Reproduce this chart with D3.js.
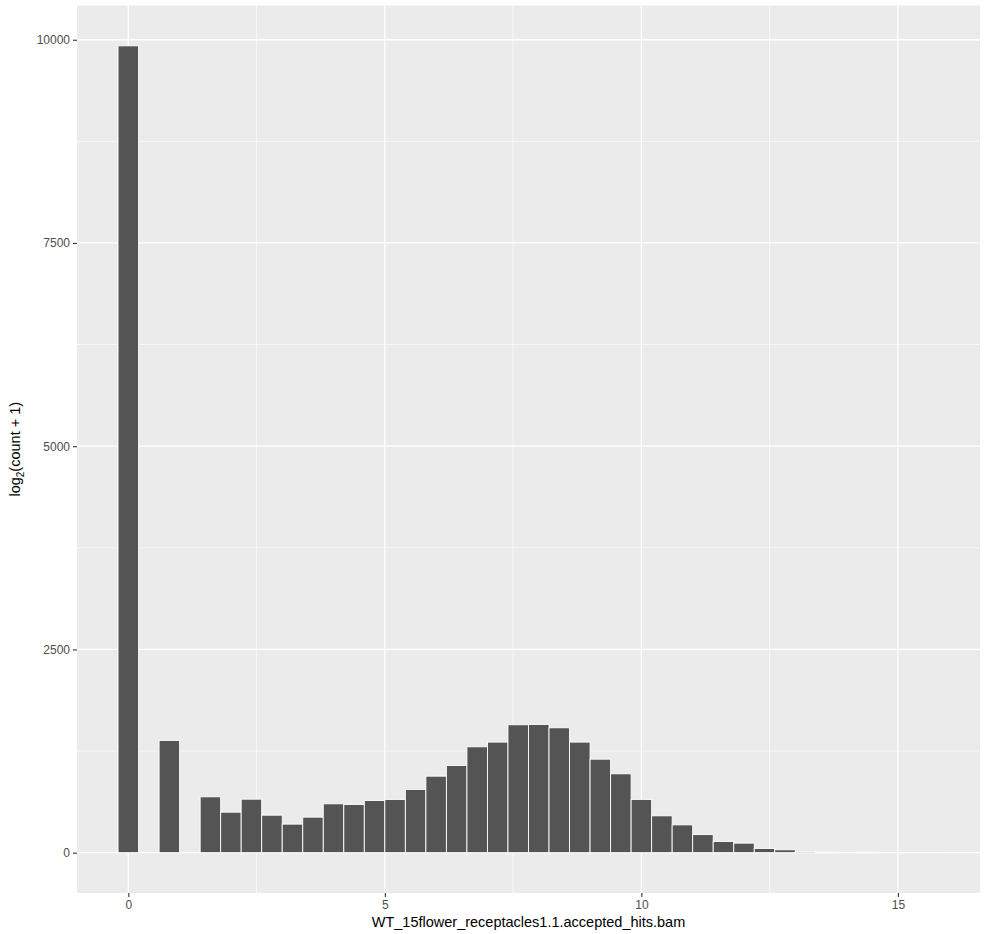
<!DOCTYPE html>
<html>
<head>
<meta charset="utf-8">
<script src="https://cdn.jsdelivr.net/npm/d3@7"></script>
<style>
  html, body { margin: 0; padding: 0; background: #fff; }
  svg { display: block; font-family: "Liberation Sans", Arial, Helvetica, sans-serif; }
</style>
</head>
<body>
<script>
// Histogram bins (centers) and counts, bin width 0.4
const binWidth = 0.4;
const binCenters = [0, 0.4, 0.8, 1.2, 1.6, 2.0, 2.4, 2.8, 3.2, 3.6,
                    4.0, 4.4, 4.8, 5.2, 5.6, 6.0, 6.4, 6.8, 7.2, 7.6,
                    8.0, 8.4, 8.8, 9.2, 9.6, 10.0, 10.4, 10.8, 11.2, 11.6,
                    12.0, 12.4, 12.8, 13.2, 13.6, 14.0, 14.4, 14.8, 15.2, 15.6];
const counts = [9925, 0, 1381, 0, 687, 498, 658, 461, 351, 437,
                601, 593, 642, 655, 778, 941, 1073, 1302, 1360, 1573,
                1577, 1536, 1360, 1150, 970, 655, 453, 342, 222, 138,
                117, 52, 35, 15, 6, 4, 6, 3, 2, 3];
const xTicks = [0, 5, 10, 15];
const xMinor = [2.5, 7.5, 12.5];
const yTicks = [0, 2500, 5000, 7500, 10000];
const yMinor = [1250, 3750, 6250, 8750];
const xTitle = "WT_15flower_receptacles1.1.accepted_hits.bam";

const W = 987, H = 934;
const panel = { left: 77, right: 980, top: 5.5, bottom: 893 };

const svg = d3.select("body").append("svg").attr("width", W).attr("height", H);

const xMin = binCenters[0] - binWidth / 2;
const xMax = binCenters[binCenters.length - 1] + binWidth / 2;
const xPad = (xMax - xMin) * 0.05;
const x = d3.scaleLinear().domain([xMin - xPad, xMax + xPad]).range([panel.left, panel.right]);

const yMax = d3.max(counts);
const y = d3.scaleLinear().domain([-yMax * 0.05, yMax * 1.05]).range([panel.bottom, panel.top]);

// panel background
svg.append("rect")
  .attr("x", panel.left).attr("y", panel.top)
  .attr("width", panel.right - panel.left).attr("height", panel.bottom - panel.top)
  .attr("fill", "#EBEBEB");

const grid = svg.append("g");
// minor grid
grid.selectAll(".xminor").data(xMinor).enter().append("line")
  .attr("x1", d => x(d)).attr("x2", d => x(d))
  .attr("y1", panel.top).attr("y2", panel.bottom)
  .attr("stroke", "#fff").attr("stroke-width", 0.6);
grid.selectAll(".yminor").data(yMinor).enter().append("line")
  .attr("y1", d => y(d)).attr("y2", d => y(d))
  .attr("x1", panel.left).attr("x2", panel.right)
  .attr("stroke", "#fff").attr("stroke-width", 0.6);
// major grid
grid.selectAll(".xmajor").data(xTicks).enter().append("line")
  .attr("x1", d => x(d)).attr("x2", d => x(d))
  .attr("y1", panel.top).attr("y2", panel.bottom)
  .attr("stroke", "#fff").attr("stroke-width", 1.3);
grid.selectAll(".ymajor").data(yTicks).enter().append("line")
  .attr("y1", d => y(d)).attr("y2", d => y(d))
  .attr("x1", panel.left).attr("x2", panel.right)
  .attr("stroke", "#fff").attr("stroke-width", 1.3);

// bars
const bins = binCenters.map((c, i) => ({ c, v: counts[i] }));
svg.append("g").selectAll("rect").data(bins).enter().append("rect")
  .attr("x", d => x(d.c - binWidth / 2))
  .attr("width", d => x(d.c + binWidth / 2) - x(d.c - binWidth / 2))
  .attr("y", d => y(d.v))
  .attr("height", d => y(0) - y(d.v))
  .attr("fill", "#545454")
  .attr("stroke", "#fff")
  .attr("stroke-width", 0.9);

// axes
const xAxis = d3.axisBottom(x).tickValues(xTicks).tickSize(4).tickPadding(3).tickFormat(d3.format("d"));
const gx = svg.append("g").attr("transform", `translate(0,${panel.bottom})`).call(xAxis);
gx.select(".domain").remove();
gx.selectAll("line").attr("stroke", "#333").attr("stroke-width", 1.1);
gx.selectAll("text").attr("fill", "#4D4D4D").attr("font-size", 12).attr("dy", "0.71em");

const yAxis = d3.axisLeft(y).tickValues(yTicks).tickSize(4).tickPadding(3).tickFormat(d3.format("d"));
const gy = svg.append("g").attr("transform", `translate(${panel.left},0)`).call(yAxis);
gy.select(".domain").remove();
gy.selectAll("line").attr("stroke", "#333").attr("stroke-width", 1.1);
gy.selectAll("text").attr("fill", "#4D4D4D").attr("font-size", 12);

// titles
svg.append("text")
  .attr("x", (panel.left + panel.right) / 2)
  .attr("y", 927)
  .attr("text-anchor", "middle")
  .attr("font-size", 14.5)
  .attr("fill", "#000")
  .text(xTitle);

const yt = svg.append("text")
  .attr("transform", `translate(20,${(panel.top + panel.bottom) / 2}) rotate(-90)`)
  .attr("text-anchor", "middle")
  .attr("font-size", 14.5)
  .attr("fill", "#000");
yt.append("tspan").text("log");
yt.append("tspan").attr("font-size", 10).attr("dy", 4).text("2");
yt.append("tspan").attr("dy", -4).text("(count + 1)");
</script>
</body>
</html>
